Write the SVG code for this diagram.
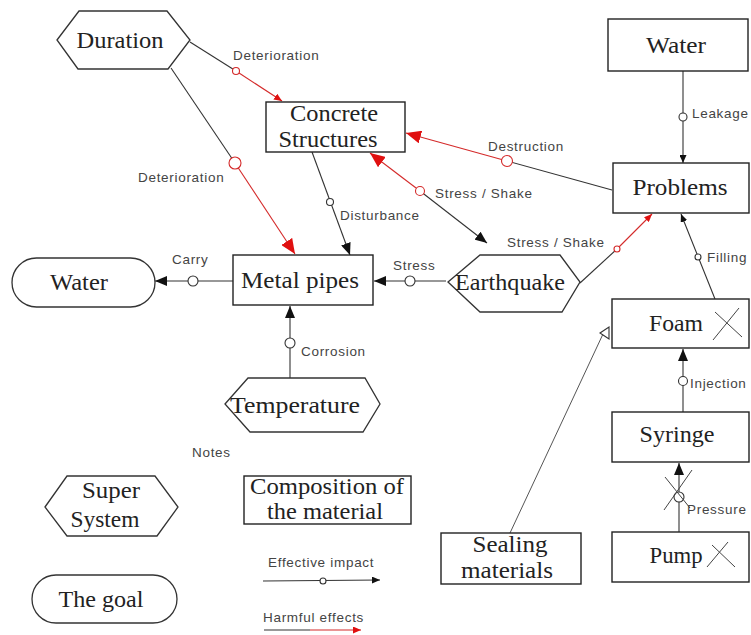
<svg xmlns="http://www.w3.org/2000/svg" width="751" height="635" viewBox="0 0 751 635">
  <style>
    .box { fill: #fff; stroke: #222; stroke-width: 1.4; }
    .shape { fill: #fff; stroke: #333; stroke-width: 1.3; }
    text.node { font-family: "Liberation Serif", "Times New Roman", serif !important; font-size: 23px; fill: #222; text-anchor: middle; }
    text.lbl { font-family: "Liberation Sans", Arial, sans-serif !important; font-size: 13.5px; fill: #444; letter-spacing: 0.7px; }
    .ln { fill: none; stroke: #333; stroke-width: 1.1; }
    .rd { fill: none; stroke: #d42a2a; stroke-width: 1.1; }
    .oc { fill: #fff; stroke: #333; stroke-width: 1.1; }
    .rc { fill: #fff; stroke: #d42a2a; stroke-width: 1.1; }
    .cross { stroke: #444; stroke-width: 1; fill: none; }
  </style>
  <defs>
    <marker id="ab" viewBox="0 0 12 10" refX="12" refY="5" markerWidth="12" markerHeight="10" orient="auto" markerUnits="userSpaceOnUse">
      <path d="M0,0 L12,5 L0,10 z" fill="#111"/>
    </marker>
    <marker id="as" viewBox="0 0 8 7" refX="8" refY="3.5" markerWidth="8" markerHeight="7" orient="auto" markerUnits="userSpaceOnUse">
      <path d="M0,0 L8,3.5 L0,7 z" fill="#111"/>
    </marker>
    <marker id="rb" viewBox="0 0 15 13" refX="15" refY="6.5" markerWidth="15" markerHeight="13" orient="auto" markerUnits="userSpaceOnUse">
      <path d="M0,0 L15,6.5 L0,13 z" fill="#e01010"/>
    </marker>
    <marker id="rs" viewBox="0 0 8 7" refX="8" refY="3.5" markerWidth="8" markerHeight="7" orient="auto" markerUnits="userSpaceOnUse">
      <path d="M0,0 L8,3.5 L0,7 z" fill="#e01010"/>
    </marker>
  </defs>

  <!-- connectors -->
  <g id="connectors">
    <!-- Duration -> Concrete Structures -->
    <g id="c-det1">
      <path class="ln" d="M190,42 L236,71"/>
      <path class="rd" d="M236,71 L282,101" marker-end="url(#rs)"/>
      <circle class="rc" cx="236" cy="71" r="3.5"/>
    </g>
    <!-- Duration -> Metal pipes -->
    <g id="c-det2">
      <path class="ln" d="M171,68 L235,163"/>
      <path class="rd" d="M235,163 L295,254" marker-end="url(#rb)"/>
      <circle class="rc" cx="235" cy="163" r="6"/>
    </g>
    <!-- Concrete Structures -> Metal pipes -->
    <g id="c-dist">
      <path class="ln" d="M312,152 L350,255" marker-end="url(#ab)"/>
      <circle class="oc" cx="330" cy="202" r="3.5"/>
    </g>
    <!-- Problems -> Concrete Structures -->
    <g id="c-destr">
      <path class="ln" d="M612,190 L507,161"/>
      <path class="rd" d="M507,161 L406,133" marker-end="url(#rb)"/>
      <circle class="rc" cx="507" cy="161" r="5.5"/>
    </g>
    <!-- Concrete Structures <-> Earthquake -->
    <g id="c-shake1">
      <path class="rd" d="M420,191 L370,153" marker-end="url(#rb)"/>
      <path class="ln" d="M420,191 L487,243" marker-end="url(#ab)"/>
      <circle class="rc" cx="420" cy="191" r="4.5"/>
    </g>
    <!-- Earthquake -> Problems -->
    <g id="c-shake2">
      <path class="ln" d="M580,283 L617,249"/>
      <path class="rd" d="M617,249 L652,214" marker-end="url(#rs)"/>
      <circle class="rc" cx="617" cy="249" r="3"/>
    </g>
    <!-- Metal pipes -> Water -->
    <g id="c-carry">
      <path class="ln" d="M233,281 L155,281" marker-end="url(#ab)"/>
      <circle class="oc" cx="193" cy="281" r="5"/>
    </g>
    <!-- Earthquake -> Metal pipes -->
    <g id="c-stress">
      <path class="ln" d="M446,281 L374,281" marker-end="url(#ab)"/>
      <circle class="oc" cx="410" cy="281" r="5"/>
    </g>
    <!-- Temperature -> Metal pipes -->
    <g id="c-corr">
      <path class="ln" d="M290,378 L290,306" marker-end="url(#ab)"/>
      <circle class="oc" cx="290" cy="343" r="5"/>
    </g>
    <!-- Water -> Problems -->
    <g id="c-leak">
      <path class="ln" d="M683,71 L683,163" marker-end="url(#as)"/>
      <circle class="oc" cx="683" cy="117" r="4"/>
    </g>
    <!-- Foam -> Problems -->
    <g id="c-fill">
      <path class="ln" d="M715,299 L681,214" marker-end="url(#as)"/>
      <circle class="oc" cx="698" cy="257" r="3"/>
    </g>
    <!-- Syringe -> Foam -->
    <g id="c-inj">
      <path class="ln" d="M683,412 L683,349" marker-end="url(#ab)"/>
      <circle class="oc" cx="683" cy="381" r="4.5"/>
    </g>
    <!-- Pump -> Syringe -->
    <g id="c-press">
      <path class="ln" d="M679,532 L679,463" marker-end="url(#ab)"/>
      <circle class="oc" cx="679" cy="497" r="5"/>
      <path class="cross" d="M664,510 L692,470 M665,477 L690,508"/>
    </g>
    <!-- Sealing materials -> Foam -->
    <g id="c-seal">
      <path d="M510,533 L603,334" fill="none" stroke="#555" stroke-width="1"/>
      <path d="M600,333 L609,327 L609,339 z" fill="#fff" stroke="#333" stroke-width="1.1"/>
    </g>
  </g>

  <!-- connector labels -->
  <g id="connector-labels">
    <text class="lbl" x="233" y="60">Deterioration</text>
    <text class="lbl" x="138" y="182">Deterioration</text>
    <text class="lbl" x="340" y="220">Disturbance</text>
    <text class="lbl" x="488" y="151">Destruction</text>
    <text class="lbl" x="435" y="198">Stress / Shake</text>
    <text class="lbl" x="507" y="247">Stress / Shake</text>
    <text class="lbl" x="172" y="264">Carry</text>
    <text class="lbl" x="393" y="270">Stress</text>
    <text class="lbl" x="301" y="356">Corrosion</text>
    <text class="lbl" x="692" y="118">Leakage</text>
    <text class="lbl" x="707" y="262">Filling</text>
    <text class="lbl" x="690" y="388">Injection</text>
    <text class="lbl" x="687" y="514">Pressure</text>
  </g>

  <g id="duration">
    <polygon class="shape" points="57,40 79,11 167,11 190,40 168,69 78,69"/>
    <text class="node" x="120" y="48" textLength="87" lengthAdjust="spacingAndGlyphs">Duration</text>
  </g>

  <g id="concrete">
    <rect class="box" x="266" y="102" width="139" height="50"/>
    <text class="node" x="334" y="121" textLength="88" lengthAdjust="spacingAndGlyphs">Concrete</text>
    <text class="node" x="328" y="147" textLength="99" lengthAdjust="spacingAndGlyphs">Structures</text>
  </g>

  <g id="water-top">
    <rect class="box" x="608" y="19" width="140" height="52"/>
    <text class="node" x="676" y="53" textLength="60" lengthAdjust="spacingAndGlyphs">Water</text>
  </g>

  <g id="problems">
    <rect class="box" x="613" y="163" width="136" height="50"/>
    <text class="node" x="680" y="195" textLength="95" lengthAdjust="spacingAndGlyphs">Problems</text>
  </g>

  <g id="water-goal">
    <rect class="shape" x="12" y="258" width="143" height="49" rx="24.5" ry="24.5"/>
    <text class="node" x="79" y="290" textLength="58" lengthAdjust="spacingAndGlyphs">Water</text>
  </g>

  <g id="metal-pipes">
    <rect class="box" x="233" y="255" width="140" height="50"/>
    <text class="node" x="300" y="288" textLength="118" lengthAdjust="spacingAndGlyphs">Metal pipes</text>
  </g>

  <g id="earthquake">
    <polygon class="shape" points="448,282 480,255 560,255 580,282 562,312 480,312"/>
    <text class="node" x="510" y="290" textLength="110" lengthAdjust="spacingAndGlyphs">Earthquake</text>
  </g>

  <g id="temperature">
    <polygon class="shape" points="225,404 248,378 365,378 380,404 363,432 250,432"/>
    <text class="node" x="295" y="413" textLength="130" lengthAdjust="spacingAndGlyphs">Temperature</text>
  </g>

  <g id="foam">
    <rect class="box" x="612" y="299" width="137" height="49"/>
    <text class="node" x="676" y="331" textLength="54" lengthAdjust="spacingAndGlyphs">Foam</text>
    <path class="cross" d="M715,312 L742,337 M713,340 L739,308"/>
  </g>

  <g id="syringe">
    <rect class="box" x="612" y="412" width="137" height="50"/>
    <text class="node" x="677" y="442" textLength="75" lengthAdjust="spacingAndGlyphs">Syringe</text>
  </g>

  <g id="pump">
    <rect class="box" x="612" y="532" width="137" height="50"/>
    <text class="node" x="676" y="563" textLength="53" lengthAdjust="spacingAndGlyphs">Pump</text>
    <path class="cross" d="M707,567 L728,542 M712,545 L735,567"/>
  </g>

  <g id="sealing">
    <rect class="box" x="441" y="533" width="140" height="51"/>
    <text class="node" x="510" y="552" textLength="75" lengthAdjust="spacingAndGlyphs">Sealing</text>
    <text class="node" x="507" y="578" textLength="92" lengthAdjust="spacingAndGlyphs">materials</text>
  </g>

  <!-- legend -->
  <g id="legend">
    <text class="lbl" x="192" y="457">Notes</text>
    <g id="legend-super">
      <polygon class="shape" points="45,507 67,476 155,476 178,507 157,536 67,536"/>
      <text class="node" x="111" y="498" textLength="58" lengthAdjust="spacingAndGlyphs">Super</text>
      <text class="node" x="105" y="527" textLength="69" lengthAdjust="spacingAndGlyphs">System</text>
    </g>
    <g id="legend-goal">
      <rect class="shape" x="32" y="575" width="145" height="48" rx="24" ry="24"/>
      <text class="node" x="101" y="607" textLength="85" lengthAdjust="spacingAndGlyphs">The goal</text>
    </g>
    <g id="legend-part">
      <rect class="box" x="244" y="476" width="167" height="48"/>
      <text class="node" x="327" y="494" textLength="154" lengthAdjust="spacingAndGlyphs">Composition of</text>
      <text class="node" x="325" y="519" textLength="116" lengthAdjust="spacingAndGlyphs">the material</text>
    </g>
    <g id="legend-effective">
      <text class="lbl" x="268" y="567">Effective impact</text>
      <path class="ln" d="M263,581 L380,580" marker-end="url(#as)"/>
      <circle class="oc" cx="323" cy="581" r="3"/>
    </g>
    <g id="legend-harmful">
      <text class="lbl" x="263" y="622">Harmful effects</text>
      <path class="ln" d="M264,630 L310,630"/>
      <path class="rd" d="M310,630 L361,630" marker-end="url(#rs)"/>
    </g>
  </g>
</svg>
